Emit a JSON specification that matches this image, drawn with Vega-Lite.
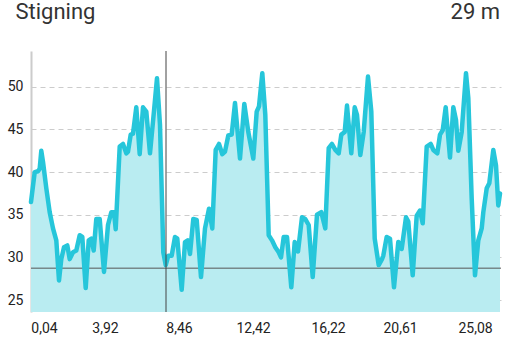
{
  "$schema": "https://vega.github.io/schema/vega-lite/v6.json",
  "width": 470,
  "height": 261,
  "autosize": {"type": "none"},
  "padding": {"left": 31, "top": 51, "right": 11, "bottom": 46},
  "background": "white",
  "config": {"view": {"stroke": null}, "font": "Roboto"},
  "title": {"text": "29 m", "anchor": "end", "frame": "group", "orient": "top", "fontSize": 22, "fontWeight": "normal", "color": "#333333", "font": "Roboto", "baseline": "alphabetic", "offset": -41, "dx": -1},
  "layer": [
    {
      "data": {"name": "profile"},
      "mark": {"type": "area", "color": "#b9ecf1", "interpolate": "linear", "clip": true},
      "encoding": {
        "x": {"field": "s", "type": "quantitative", "scale": {"domain": [0, 470], "nice": false}, "axis": {"title": null, "values": [13, 74, 148, 222, 297, 369, 444], "labelExpr": "datum.value == 13 ? '0,04' : datum.value == 74 ? '3,92' : datum.value == 148 ? '8,46' : datum.value == 222 ? '12,42' : datum.value == 297 ? '16,22' : datum.value == 369 ? '20,61' : '25,08'", "domain": false, "ticks": false, "tickSize": 0, "grid": false, "labelPadding": 9, "labelFontSize": 14, "labelColor": "#222222", "labelFont": "Roboto"}},
        "y": {"field": "v", "type": "quantitative", "scale": {"domain": [23.6, 54.2], "nice": false, "zero": false}, "axis": {"title": "Stigning", "titleAngle": 0, "titleAlign": "left", "titleBaseline": "alphabetic", "titleX": -16, "titleY": -33, "titleFontSize": 22, "titleFontWeight": "normal", "titleFont": "Roboto", "titleColor": "#333333", "values": [25, 30, 35, 40, 45, 50], "labelPadding": 8, "labelFontSize": 14, "labelColor": "#222222", "labelFont": "Roboto", "ticks": false, "tickSize": 0, "domainColor": "#cccccc", "domainWidth": 2, "grid": true, "gridDash": [5, 4], "gridColor": "#cccccc", "gridWidth": 1}}
      }
    },
    {
      "data": {"values": [{"level": 28.74}]},
      "mark": {"type": "rule", "color": "#555555", "strokeWidth": 1},
      "encoding": {"y": {"field": "level", "type": "quantitative"}}
    },
    {
      "data": {"name": "profile"},
      "mark": {"type": "line", "color": "#26c6da", "strokeWidth": 4.5, "interpolate": "linear", "strokeJoin": "round", "strokeCap": "round"},
      "encoding": {
        "x": {"field": "s", "type": "quantitative"},
        "y": {"field": "v", "type": "quantitative"}
      }
    },
    {
      "data": {"values": [{"cursor": 135}]},
      "mark": {"type": "rule", "color": "#444444", "strokeWidth": 1},
      "encoding": {"x": {"field": "cursor", "type": "quantitative"}}
    }
  ],
  "datasets": {
    "profile": [
      {"s": 0, "v": 36.5}, {"s": 3.7, "v": 40.0}, {"s": 7, "v": 40.1}, {"s": 8.7, "v": 40.4}, {"s": 10.3, "v": 42.5}, {"s": 12, "v": 41.2}, {"s": 15.3, "v": 38.1}, {"s": 18.7, "v": 35.3}, {"s": 22, "v": 33.4}, {"s": 25.3, "v": 32.0}, {"s": 28, "v": 27.3}, {"s": 30.3, "v": 29.8}, {"s": 33, "v": 31.2}, {"s": 36.3, "v": 31.4}, {"s": 38.7, "v": 29.8}, {"s": 42, "v": 30.6}, {"s": 45.3, "v": 30.8}, {"s": 48.7, "v": 32.6}, {"s": 51.3, "v": 32.4}, {"s": 54.7, "v": 26.4}, {"s": 57.7, "v": 32.0}, {"s": 60.3, "v": 32.2}, {"s": 62.7, "v": 30.8}, {"s": 65.3, "v": 34.5}, {"s": 68.7, "v": 34.5}, {"s": 73, "v": 28.3}, {"s": 77, "v": 33.8}, {"s": 80.3, "v": 35.3}, {"s": 83, "v": 35.3}, {"s": 84.7, "v": 33.3}, {"s": 88.7, "v": 43.0}, {"s": 92, "v": 43.3}, {"s": 95.3, "v": 42.2}, {"s": 97, "v": 42.4}, {"s": 99.7, "v": 44.4}, {"s": 102, "v": 44.5}, {"s": 105.3, "v": 47.6}, {"s": 108.7, "v": 42.1}, {"s": 112, "v": 47.6}, {"s": 115.3, "v": 47.1}, {"s": 119, "v": 42.2}, {"s": 122.3, "v": 46.3}, {"s": 126, "v": 51.0}, {"s": 129, "v": 45.5}, {"s": 132.3, "v": 30.6}, {"s": 134.7, "v": 29.1}, {"s": 137.3, "v": 30.2}, {"s": 140.7, "v": 30.2}, {"s": 144, "v": 32.4}, {"s": 146.3, "v": 32.2}, {"s": 150.7, "v": 26.2}, {"s": 154, "v": 31.8}, {"s": 156.7, "v": 32.0}, {"s": 159, "v": 30.4}, {"s": 162.3, "v": 34.5}, {"s": 165.7, "v": 34.4}, {"s": 170, "v": 27.7}, {"s": 174, "v": 33.4}, {"s": 178, "v": 35.7}, {"s": 181.3, "v": 33.4}, {"s": 184.7, "v": 42.6}, {"s": 188, "v": 43.3}, {"s": 191.3, "v": 42.1}, {"s": 194, "v": 42.4}, {"s": 197.3, "v": 44.3}, {"s": 200.7, "v": 44.4}, {"s": 204, "v": 48.1}, {"s": 209, "v": 41.6}, {"s": 213.3, "v": 48.0}, {"s": 217.3, "v": 44.7}, {"s": 222.3, "v": 41.6}, {"s": 225.7, "v": 47.1}, {"s": 228, "v": 47.7}, {"s": 231.3, "v": 51.6}, {"s": 234.3, "v": 46.7}, {"s": 237.7, "v": 32.6}, {"s": 241, "v": 32.0}, {"s": 244.3, "v": 31.2}, {"s": 247.7, "v": 30.6}, {"s": 250, "v": 30.0}, {"s": 252.7, "v": 32.4}, {"s": 256, "v": 32.4}, {"s": 260.3, "v": 26.5}, {"s": 263.7, "v": 31.8}, {"s": 267, "v": 30.7}, {"s": 271, "v": 34.7}, {"s": 274.3, "v": 34.5}, {"s": 277.7, "v": 33.8}, {"s": 281.7, "v": 27.7}, {"s": 286, "v": 35.0}, {"s": 290.3, "v": 35.3}, {"s": 294.3, "v": 33.4}, {"s": 297.7, "v": 42.8}, {"s": 301, "v": 43.3}, {"s": 304.3, "v": 42.6}, {"s": 307.7, "v": 42.2}, {"s": 310.3, "v": 44.4}, {"s": 313.7, "v": 44.7}, {"s": 316, "v": 47.8}, {"s": 320.3, "v": 42.2}, {"s": 323.7, "v": 47.6}, {"s": 326, "v": 46.7}, {"s": 329.3, "v": 42.0}, {"s": 332.7, "v": 44.7}, {"s": 337, "v": 51.2}, {"s": 340.3, "v": 47.1}, {"s": 343.7, "v": 32.2}, {"s": 347.7, "v": 29.1}, {"s": 351, "v": 29.8}, {"s": 352.3, "v": 30.2}, {"s": 355.7, "v": 32.4}, {"s": 359, "v": 32.2}, {"s": 363, "v": 26.5}, {"s": 367.3, "v": 31.8}, {"s": 370.7, "v": 31.0}, {"s": 375, "v": 34.7}, {"s": 377.3, "v": 34.2}, {"s": 381.7, "v": 27.9}, {"s": 385.7, "v": 34.9}, {"s": 389, "v": 35.5}, {"s": 391.7, "v": 34.0}, {"s": 395.7, "v": 43.0}, {"s": 399.7, "v": 43.3}, {"s": 402.3, "v": 42.6}, {"s": 406.3, "v": 42.2}, {"s": 409, "v": 44.4}, {"s": 411.7, "v": 44.9}, {"s": 414.7, "v": 47.6}, {"s": 419, "v": 41.7}, {"s": 422.3, "v": 47.6}, {"s": 425, "v": 46.1}, {"s": 427.3, "v": 42.5}, {"s": 430.7, "v": 44.7}, {"s": 435, "v": 51.6}, {"s": 437.3, "v": 48.7}, {"s": 440.7, "v": 36.9}, {"s": 444, "v": 27.9}, {"s": 447.3, "v": 32.0}, {"s": 450.7, "v": 33.4}, {"s": 452.3, "v": 35.3}, {"s": 455.7, "v": 38.1}, {"s": 458.3, "v": 38.7}, {"s": 462.3, "v": 42.6}, {"s": 465, "v": 40.8}, {"s": 467.3, "v": 36.1}, {"s": 469, "v": 37.5}
    ]
  }
}
